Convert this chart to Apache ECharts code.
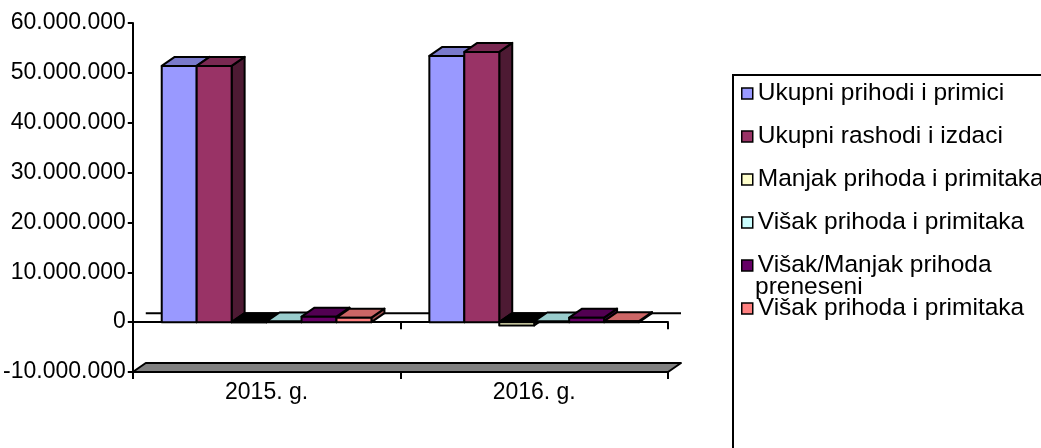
<!DOCTYPE html>
<html><head><meta charset="utf-8">
<script src="https://cdn.jsdelivr.net/npm/echarts@6/dist/echarts.min.js"></script>
<style>html,body{margin:0;padding:0;background:#fff}#c{width:1041px;height:448px}</style>
</head><body><div id="c"></div>
<script>
// ---- data ----
const categories = ['2015. g.', '2016. g.'];
const seriesNames = [
  'Ukupni prihodi i primici',
  'Ukupni rashodi i izdaci',
  'Manjak prihoda i primitaka',
  'Višak prihoda i primitaka',
  'Višak/Manjak prihoda preneseni',
  'Višak prihoda i primitaka '
];
const ukupniPrihodi = [51400000, 53400000];
const ukupniRashodi = [51400000, 54200000];
const manjakPrihoda = [0, -650000];
const visakPrihoda = [120000, 120000];
const prenesenoPrihoda = [1100000, 900000];
const visakRaspoloziv = [900000, 200000];
const yTickLabels = ['-10.000.000', '0', '10.000.000', '20.000.000', '30.000.000', '40.000.000', '50.000.000', '60.000.000'];
const Y_MIN = -10000000, Y_MAX = 60000000, Y_INTERVAL = 10000000;

// ---- styles ----
const frontColors = ['#9999FF', '#993366', '#FFFFCC', '#CCFFFF', '#660066', '#FF8080'];
const topColors   = ['#7A7ACC', '#7A2952', '#000000', '#99CCCC', '#520052', '#CC6666'];
const sideColors  = ['#5C5C99', '#4D1A33', '#99997A', '#7A9999', '#3D003D', '#994D4D'];
const DEPTH_X = 13, DEPTH_Y = -9;
const BAR_FRACTION = 35 / 268;
const FONT = '"Liberation Sans", Arial, sans-serif';

const allValues = [ukupniPrihodi, ukupniRashodi, manjakPrihoda, visakPrihoda, prenesenoPrihoda, visakRaspoloziv];

function makeRender(s) {
  return function (params, api) {
    const cat = api.value(0), val = api.value(1);
    const band = api.size([1, 0])[0];
    const barW = band * BAR_FRACTION;
    const zero = api.coord([cat, 0]);
    const yz = zero[1];
    const yv = api.coord([cat, val])[1];
    const x0 = zero[0] - barW * seriesNames.length / 2 + s * barW;
    const yTop = Math.min(yz, yv), yBot = Math.max(yz, yv);
    const dx = DEPTH_X, dy = DEPTH_Y;
    const st = { stroke: '#000', lineWidth: 2, lineJoin: 'round' };
    return {
      type: 'group',
      children: [
        { type: 'polygon', shape: { points: [[x0 + barW, yTop], [x0 + barW + dx, yTop + dy], [x0 + barW + dx, yBot + dy], [x0 + barW, yBot]] },
          style: Object.assign({}, st, { fill: sideColors[s] }) },
        { type: 'polygon', shape: { points: [[x0, yTop], [x0 + barW, yTop], [x0 + barW + dx, yTop + dy], [x0 + dx, yTop + dy]] },
          style: Object.assign({}, st, { fill: topColors[s] }) },
        { type: 'rect', shape: { x: x0, y: yTop, width: barW, height: yBot - yTop },
          style: Object.assign({}, st, { fill: frontColors[s] }) }
      ]
    };
  };
}

function renderDecor(params, api) {
  const cs = params.coordSys;
  const yFloor = api.coord([0, Y_MIN])[1];
  const yZero = api.coord([0, 0])[1];
  const xl = cs.x, xr = cs.x + cs.width;
  return {
    type: 'group',
    children: [
      { type: 'polygon', shape: { points: [[xl, yFloor], [xr, yFloor], [xr + DEPTH_X, yFloor + DEPTH_Y], [xl + DEPTH_X, yFloor + DEPTH_Y]] },
        style: { fill: '#808080', stroke: '#000', lineWidth: 2, lineJoin: 'round' } },
      { type: 'line', shape: { x1: xl + DEPTH_X, y1: yZero + DEPTH_Y, x2: xr + DEPTH_X, y2: yZero + DEPTH_Y },
        style: { stroke: '#000', lineWidth: 2 } }
    ]
  };
}

const series = [{
  type: 'custom', name: '__decor', data: [[0, 0]], renderItem: renderDecor, clip: false, silent: true, z: 1
}];
seriesNames.forEach(function (n, s) {
  series.push({
    type: 'custom', name: n, clip: false, z: 2,
    itemStyle: { color: frontColors[s] },
    data: categories.map(function (c, i) { return [i, allValues[s][i]]; }),
    renderItem: makeRender(s)
  });
});

const chart = echarts.init(document.getElementById('c'));
chart.setOption({
  animation: false,
  backgroundColor: '#fff',
  grid: { left: 132, right: 373, top: 23, bottom: 76 },
  xAxis: [{
    type: 'category', data: categories, position: 'bottom',
    axisLine: { onZero: false, lineStyle: { color: '#000', width: 2 } },
    axisTick: { show: true, length: 7, lineStyle: { color: '#000', width: 2 } },
    axisLabel: { color: '#000', fontFamily: FONT, fontSize: 23, margin: 9 },
    splitLine: { show: false }
  }, {
    type: 'category', data: categories, position: 'bottom',
    axisLine: { onZero: true, lineStyle: { color: '#000', width: 2 } },
    axisTick: { show: true, length: 7, lineStyle: { color: '#000', width: 2 } },
    axisLabel: { show: false },
    splitLine: { show: false }
  }],
  yAxis: {
    type: 'value', min: Y_MIN, max: Y_MAX, interval: Y_INTERVAL,
    axisLine: { show: true, lineStyle: { color: '#000', width: 2 } },
    axisTick: { show: true, length: 5, lineStyle: { color: '#000', width: 2 } },
    axisLabel: { color: '#000', fontFamily: FONT, fontSize: 23, margin: 7,
      formatter: function (v) { return yTickLabels[Math.round((v - Y_MIN) / Y_INTERVAL)]; } },
    splitLine: { show: false }
  },
  legend: {
    orient: 'vertical', left: 741, top: 81, padding: 0,
    itemWidth: 11, itemHeight: 11, itemGap: 18, icon: 'rect', selectedMode: false,
    textStyle: { fontFamily: FONT, fontSize: 24.5, lineHeight: 24, color: '#000' },
    formatter: function (n) { return n === 'Višak/Manjak prihoda preneseni' ? 'Višak/Manjak prihoda' : n; },
    data: seriesNames.map(function (n, i) {
      return { name: n, itemStyle: { color: frontColors[i], borderColor: '#000', borderWidth: 1.5 } };
    })
  },
  graphic: [
    { type: 'rect', shape: { x: 733, y: 75, width: 400, height: 420 }, style: { fill: 'none', stroke: '#000', lineWidth: 2 }, silent: true },
    { type: 'text', x: 755, y: 287, style: { text: 'preneseni', font: '24.5px ' + FONT, fill: '#000', verticalAlign: 'middle' }, silent: true }
  ],
  series: series
});
</script>
</body></html>
